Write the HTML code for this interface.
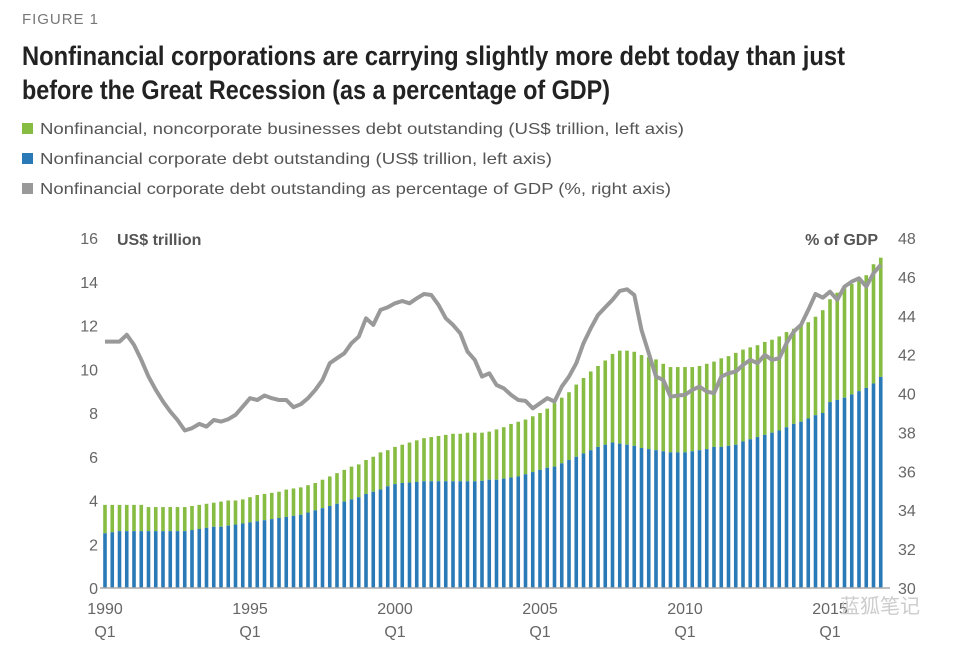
<!DOCTYPE html>
<html><head><meta charset="utf-8"><style>
body{margin:0;background:#fff;}
svg{display:block;font-family:"Liberation Sans","Noto Sans CJK SC",sans-serif;}
</style></head><body>
<svg id="chart" width="961" height="647" viewBox="0 0 961 647">
<text x="22" y="24" font-size="15" fill="#777" textLength="76">FIGURE 1</text>
<text x="22" y="65" font-size="27" font-weight="bold" fill="#222" textLength="823" lengthAdjust="spacingAndGlyphs">Nonfinancial corporations are carrying slightly more debt today than just</text>
<text x="22" y="99" font-size="27" font-weight="bold" fill="#222" textLength="588" lengthAdjust="spacingAndGlyphs">before the Great Recession (as a percentage of GDP)</text>
<g>
<rect x="22" y="123" width="11" height="11" fill="#86bc42"/>
<text x="40" y="134" font-size="16" fill="#555" textLength="644" lengthAdjust="spacingAndGlyphs">Nonfinancial, noncorporate businesses debt outstanding (US$ trillion, left axis)</text>
<rect x="22" y="153" width="11" height="11" fill="#2a7ab7"/>
<text x="40" y="164" font-size="16" fill="#555" textLength="512" lengthAdjust="spacingAndGlyphs">Nonfinancial corporate debt outstanding (US$ trillion, left axis)</text>
<rect x="22" y="183" width="11" height="11" fill="#999"/>
<text x="40" y="194" font-size="16" fill="#555" textLength="631" lengthAdjust="spacingAndGlyphs">Nonfinancial corporate debt outstanding as percentage of GDP (%, right axis)</text>
</g>
<text x="117" y="245" font-size="16" font-weight="bold" fill="#555">US$ trillion</text>
<text x="878" y="245" font-size="16" font-weight="bold" fill="#555" text-anchor="end">% of GDP</text>
<g id="plot"></g>
<text x="840" y="613" font-size="20" fill="#ccc">蓝狐笔记</text>
</svg>
<script>
const corporate = [2.5,2.55,2.6,2.6, 2.6,2.6,2.6,2.6, 2.6,2.6,2.6,2.6, 2.65,2.7,2.75,2.8, 2.8,2.85,2.9,2.95, 3.0,3.05,3.1,3.15, 3.2,3.25,3.3,3.35, 3.45,3.55,3.65,3.75, 3.85,3.95,4.05,4.15, 4.3,4.4,4.5,4.65, 4.75,4.8,4.82,4.85, 4.88,4.88,4.88,4.88, 4.88,4.88,4.88,4.88, 4.9,4.95,4.95,5.0, 5.05,5.1,5.2,5.3, 5.4,5.5,5.55,5.7, 5.85,6.0,6.15,6.3, 6.45,6.55,6.65,6.6, 6.55,6.5,6.4,6.35, 6.3,6.25,6.2,6.2, 6.2,6.25,6.3,6.35, 6.45,6.45,6.5,6.55, 6.7,6.8,6.9,7.0, 7.1,7.2,7.35,7.5, 7.6,7.75,7.9,8.0, 8.5,8.6,8.7,8.85, 9.0,9.15,9.35,9.65];
const totalDebt = [3.8,3.8,3.8,3.8, 3.8,3.8,3.7,3.7, 3.7,3.7,3.7,3.7, 3.75,3.8,3.85,3.9, 3.95,4.0,4.0,4.05, 4.15,4.25,4.3,4.35, 4.4,4.5,4.55,4.6, 4.7,4.8,4.95,5.1, 5.25,5.4,5.55,5.65, 5.85,6.0,6.2,6.3, 6.45,6.55,6.65,6.75, 6.85,6.9,6.95,7.0, 7.05,7.05,7.1,7.1, 7.1,7.15,7.25,7.35, 7.5,7.6,7.7,7.85, 8.0,8.2,8.45,8.7, 8.95,9.3,9.6,9.9, 10.15,10.4,10.7,10.85, 10.85,10.8,10.65,10.55, 10.45,10.25,10.1,10.1, 10.1,10.1,10.15,10.25, 10.35,10.5,10.6,10.75, 10.9,11.0,11.1,11.25, 11.35,11.5,11.7,11.85, 12.0,12.15,12.4,12.7, 13.2,13.5,13.7,13.9, 14.1,14.3,14.8,15.1];
const gdpPct = [42.67,42.67,42.67,43.02, 42.5,41.73,40.87,40.19, 39.59,39.07,38.64,38.1, 38.22,38.44,38.3,38.64, 38.56,38.68,38.9,39.33, 39.76,39.67,39.9,39.76, 39.67,39.67,39.3,39.45, 39.76,40.19,40.7,41.56, 41.82,42.07,42.59,42.93, 43.87,43.53,44.3,44.44, 44.64,44.76,44.64,44.9, 45.12,45.07,44.56,43.87, 43.53,43.1,42.16,41.73, 40.87,41.04,40.44,40.27, 39.93,39.67,39.62,39.24, 39.5,39.76,39.59,40.36, 40.87,41.56,42.59,43.36, 44.04,44.44,44.82,45.28, 45.36,45.07,43.27,42.07, 40.87,40.7,39.84,39.9, 39.93,40.19,40.36,40.1, 40.02,40.87,41.04,41.13, 41.47,41.73,41.56,41.99, 41.73,41.82,42.59,43.19, 43.53,44.3,45.12,44.93, 45.24,44.82,45.5,45.76, 45.93,45.5,46.19,46.62];
const leftTicks = [0,2,4,6,8,10,12,14,16];
const rightTicks = [30,32,34,36,38,40,42,44,46,48];
const yearLabels = ["1990","1995","2000","2005","2010","2015"];

const NS="http://www.w3.org/2000/svg";
const plot=document.getElementById('plot');
const x0=105, step=7.25, yBase=588, yTop=238;
const xq=i=>x0+i*step;
const yL=v=>yBase-(v/16)*(yBase-yTop);
const yR=v=>yBase-((v-30)/18)*(yBase-yTop);
function mk(tag,attrs){const e=document.createElementNS(NS,tag);for(const k in attrs)e.setAttribute(k,attrs[k]);plot.appendChild(e);return e;}

leftTicks.forEach(t=>{
  const e=mk('text',{x:98,y:yL(t)+6,'font-size':16,fill:'#666','text-anchor':'end'});
  e.textContent=t;
  
  
});
rightTicks.forEach(t=>{
  const e=mk('text',{x:898,y:yR(t)+6,'font-size':16,fill:'#666'});
  e.textContent=t;
  
  
});
yearLabels.forEach((lab,k)=>{
  const x=xq(k*20);
  const a=mk('text',{x:x,y:614,'font-size':16,fill:'#666','text-anchor':'middle'});
  a.textContent=lab;
  
  
  const b=mk('text',{x:x,y:637,'font-size':16,fill:'#666','text-anchor':'middle'});
  b.textContent='Q1';
  
  
});
const bw=3.6;
corporate.forEach((c,i)=>{
  const x=xq(i)-bw/2;
  const t=totalDebt[i];
  const g=mk('rect',{x:x,y:yL(t),width:bw,height:yL(c)-yL(t),fill:'#86bc42'});
  
  
  const b=mk('rect',{x:x,y:yL(c),width:bw,height:yBase-yL(c),fill:'#2a7ab7'});
  
  
});
const ax=mk('line',{x1:100,x2:890,y1:yBase,y2:yBase,stroke:'#aaa','stroke-width':1.5});


const pts=gdpPct.map((v,i)=>xq(i).toFixed(1)+','+yR(v).toFixed(1)).join(' ');
const ln=mk('polyline',{points:pts,fill:'none',stroke:'#999','stroke-width':4,'stroke-linejoin':'round'});


</script>
</body></html>
